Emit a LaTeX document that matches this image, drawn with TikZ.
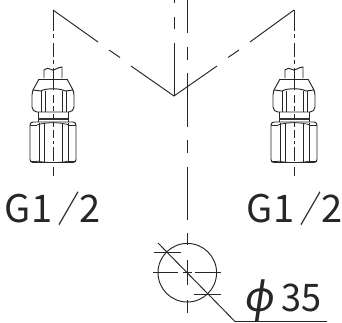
\documentclass[tikz,border=0pt]{standalone}
\usepackage{fontspec}
\setmainfont{Liberation Sans}
\newfontfamily\gfont{Noto Sans CJK JP}
\newfontfamily\phifont[FakeSlant=0.15]{Noto Sans}
\tikzset{
  ln/.style={line width=0.95pt,draw=black!85},
  thin ln/.style={line width=0.75pt,draw=black!85},
  lbl/.style={inner sep=0pt,text=black!85,font=\gfont\fontsize{38}{38}\selectfont,anchor=base west}
}
\newcommand{\gtext}{G\kern 1pt 1\kern 6pt\scalebox{.55}[.95]{\bfseries ／}\kern 0pt 2}
\newcommand{\fitting}[1]{%
\begin{scope}[shift={(#1,0)}]
  % stem
  \draw[ln] (-9,78) -- (-9,70) .. controls (-6,68) and (-4,68) .. (-3,69) .. controls (-1,71) and (1,70) .. (3,69) .. controls (5,68) and (7,67) .. (9,67) -- (9,78);
  % upper hex
  \draw[ln] (-14,79) -- (14,79);
  \draw[ln] (-14,79) -- (-20,90) [rounded corners=2pt] -- (-21,93) -- (-21,109) -- (-18,112) -- (18,112) -- (21,109) -- (21,93) -- (20,90) [sharp corners] -- (14,79);
  \draw[ln] (-20,90) -- (-12,91) .. controls (-7,88) and (7,88) .. (12,91) -- (20,90);
  \foreach \x in {-12,-8,9,13} \draw[thin ln] (\x,91) -- (\x,112);
  % collar
  \draw[ln] (-15,112) -- (-15,122) (15,112) -- (15,122);
  \draw[line width=2pt,draw=black!80] (-15,119) -- (15,119);
  % lower nut
  \draw[ln,rounded corners=3pt] (-23,162.5) rectangle (23,122);
  \draw[thin ln] (-16,125) .. controls (-8,122) and (8,122) .. (16,125);
  \draw[thin ln] (-16,161) .. controls (-8,163) and (8,163) .. (16,161);
  \draw[thin ln] (-23,125) -- (-16,125) (23,125) -- (16,125) (-23,161) -- (-16,161) (23,161) -- (16,161);
  \foreach \x in {-14,-9,9,15} \draw[thin ln] (\x,123) -- (\x,162);
  % centre line
  \foreach \a/\b in {10/31,34/38,43/57,60/64,68/90,95/103,106/111,114/119,122/127,130/138,141/144,147/161,167/176}
    \draw[thin ln] (0,\a) -- (0,\b);
\end{scope}}
\begin{document}
\begin{tikzpicture}[x=1pt,y=-1pt]
\useasboundingbox (0,0) rectangle (342,322);
\coordinate (A) at (53,10);
\coordinate (B) at (174,96);
\coordinate (C) at (294,10);
\coordinate (O) at (187.3,272.7);
\draw[ln] (A) -- (98,42) (109,50) -- (120,57.5) (131,66) -- (B) -- (217,66) (228,57.5) -- (239,50) (250,42) -- (C);
\draw[ln] (174,0) -- (174,3) (174,17) -- (174,29) (174,43) -- (B);
\foreach \a/\b in {0/33,47/60,73/127,140/153,167/220,233/245,260/285,300/313}
  \draw[ln] (187.3,\a) -- (187.3,\b);
\fitting{53}
\fitting{294}
\node[lbl] (g1) at (4,222.5) {\gtext};
\node[lbl] (g2) at (246,222.5) {\gtext};
\draw[ln] (O) circle (29.3);
\draw[ln] (153,272.7) -- (178,272.7) (183,272.7) -- (192,272.7) (195,272.7) -- (221,272.7);
\draw[ln] (154,252) -- (181,252) (194,294) -- (221,294);
\coordinate (K) at (235,321.5);
\draw[ln] (158,243) -- (K) -- (327,321.5);
\node[lbl] (phi) at (243,311) {\scalebox{1.1}[1.1]{\phifont ϕ}\kern 8pt\scalebox{.95}[1]{35}};
\end{tikzpicture}
\end{document}
